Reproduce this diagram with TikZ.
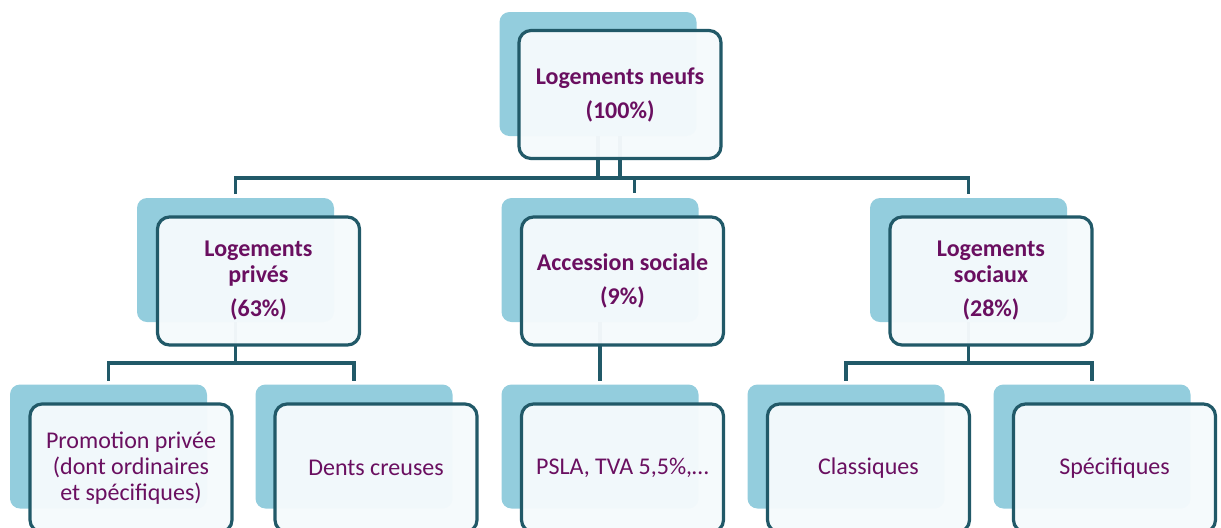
\documentclass[tikz,border=0pt]{standalone}
\usepackage{fontspec}
\setmainfont{Carlito}
\usetikzlibrary{calc}
\pgfdeclarelayer{background}
\pgfsetlayers{background,main}
\definecolor{shade}{HTML}{93CDDD}
\definecolor{frame}{HTML}{215968}
\definecolor{txt}{HTML}{6A0F60}
\definecolor{paper}{HTML}{F5FAFC}
\begin{document}
\begin{tikzpicture}[x=0.5pt,y=-0.5pt,
  shadebox/.style={fill=shade, rounded corners=5pt, minimum width=98.5pt, minimum height=62pt, inner sep=0pt, outer sep=0pt},
  frontbox/.style={draw=frame, line width=1.6pt, fill=paper, fill opacity=0.97, text opacity=1, rounded corners=6pt, minimum width=101pt, minimum height=64pt, inner sep=0pt, outer sep=0pt, align=center, text=txt, font=\fontsize{12}{13}\selectfont},
  headbox/.style={frontbox, font=\fontsize{12}{13}\selectfont\bfseries},
  conn/.style={draw=frame, line width=1.6pt}]
\useasboundingbox (0,0) rectangle (1221,527);

\begin{pgfonlayer}{background}
  \node[shadebox] (s0)  at (598,74) {};
  \node[shadebox] (s1)  at (235.5,260) {};
  \node[shadebox] (s2)  at (600,260) {};
  \node[shadebox] (s3)  at (968.5,260) {};
  \node[shadebox] (s11) at (108.5,446.5) {};
  \node[shadebox] (s12) at (354,446.5) {};
  \node[shadebox] (s21) at (600,446.5) {};
  \node[shadebox] (s31) at (846,446.5) {};
  \node[shadebox] (s32) at (1092,446.5) {};
\end{pgfonlayer}

\node[headbox] (f0) at (620,94.5) {Logements neufs\\[4pt](100\%)};
\node[headbox] (f1) at (258.5,281) {Logements\\privés\\[4pt](63\%)};
\node[headbox] (f2) at (622.5,281) {Accession sociale\\[4pt](9\%)};
\node[headbox] (f3) at (991,281) {Logements\\sociaux\\[4pt](28\%)};
\node[frontbox] (f11) at (131,468) {Promotion privée\\(dont ordinaires\\et spécifiques)};
\node[frontbox] (f12) at (376,468) {Dents creuses};
\node[frontbox] (f21) at (622.5,468) {PSLA, TVA 5,5\%,…};
\node[frontbox] (f31) at (868.5,468) {Classiques};
\node[frontbox] (f32) at (1114.5,468) {Spécifiques};

\begin{pgfonlayer}{background}
  \draw[conn] (s0.south) -- ++(0,42) coordinate (b0);
  \draw[conn] (f0.south |- s0.south) -- (f0.south |- b0);
  \draw[conn] ($(s1.north)+(0,-4)$) -- (s1.north |- b0) -- (s3.north |- b0) -- ($(s3.north)+(0,-4)$);
  \draw[conn] ($(f2.north |- b0)+(12,0)$) -- ($(f2.north |- b0)+(12,15)$);
  \draw[conn] (s1.south) -- ++(0,41) coordinate (b1);
  \draw[conn] ($(s11.north)+(0,-4)$) -- (s11.north |- b1) -- (s12.north |- b1) -- ($(s12.north)+(0,-4)$);
  \draw[conn] (s2.south) -- ($(s21.north)+(0,-4)$);
  \draw[conn] (s3.south) -- ++(0,41) coordinate (b3);
  \draw[conn] ($(s31.north)+(0,-4)$) -- (s31.north |- b3) -- (s32.north |- b3) -- ($(s32.north)+(0,-4)$);
\end{pgfonlayer}
\end{tikzpicture}
\end{document}
